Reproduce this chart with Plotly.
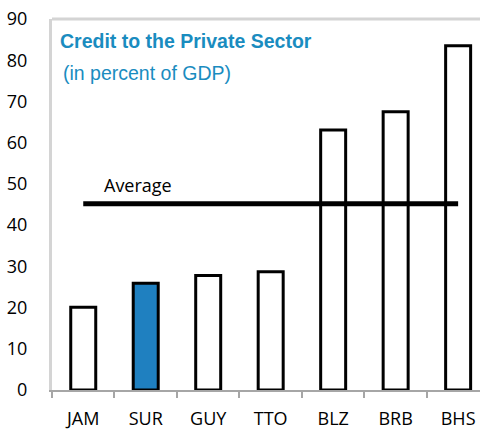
import plotly.graph_objects as go

# Credit to the private sector, percent of GDP
countries = ["JAM", "SUR", "GUY", "TTO", "BLZ", "BRB", "BHS"]
credit_pct_gdp = [20.1, 25.9, 27.8, 28.7, 63.1, 67.5, 83.5]
average_pct_gdp = 45.2
highlight = "SUR"

y_tick_values = [0, 10, 20, 30, 40, 50, 60, 70, 80, 90]

fill_colors = ["#1f80c0" if c == highlight else "#ffffff" for c in countries]

fig = go.Figure()

fig.add_trace(go.Bar(
    x=countries,
    y=credit_pct_gdp,
    width=0.4,
    marker=dict(color=fill_colors, line=dict(color="#000000", width=3)),
    showlegend=False,
    hoverinfo="x+y",
))

# Regional average drawn across the bars
fig.add_trace(go.Scatter(
    x=[countries[0], countries[-1]],
    y=[average_pct_gdp, average_pct_gdp],
    mode="lines",
    line=dict(color="#000000", width=5),
    showlegend=False,
    hoverinfo="skip",
))

fig.add_annotation(
    x=0.3, y=average_pct_gdp + 1.2, xref="x", yref="y",
    text="Average", showarrow=False,
    xanchor="left", yanchor="bottom",
    font=dict(family="Open Sans, DejaVu Sans, sans-serif", size=18, color="#000000"),
)

fig.add_annotation(
    x=0.014, y=0.975, xref="paper", yref="paper",
    text="<b>Credit to the Private Sector</b>", showarrow=False,
    xanchor="left", yanchor="top",
    font=dict(family="Liberation Sans, Arial, sans-serif", size=19.5, color="#1a8cbf"),
)
fig.add_annotation(
    x=0.022, y=0.89, xref="paper", yref="paper",
    text="(in percent of GDP)", showarrow=False,
    xanchor="left", yanchor="top",
    font=dict(family="Liberation Sans, Arial, sans-serif", size=19.5, color="#1a8cbf"),
)

# Light frame line along the top of the plot area
fig.add_shape(
    type="line", xref="paper", yref="paper",
    x0=0, x1=1, y0=1, y1=1,
    line=dict(color="#d4d4d4", width=3),
)

fig.update_layout(
    width=480, height=430,
    margin=dict(l=52, r=0, t=19, b=40),
    paper_bgcolor="#ffffff",
    plot_bgcolor="#ffffff",
    font=dict(family="Open Sans, DejaVu Sans, sans-serif", size=18, color="#000000"),
)

fig.update_xaxes(
    type="category",
    range=[-0.5, 6.35],
    showgrid=False,
    showline=True, linecolor="#a6a6a6", linewidth=2,
    ticks="outside", tickson="boundaries", ticklen=6, tickcolor="#a6a6a6", tickwidth=2,
    ticklabelstandoff=11,
    tickfont=dict(size=18),
    fixedrange=True,
)

fig.update_yaxes(
    range=[0, 90],
    tickvals=y_tick_values,
    showgrid=False, zeroline=False,
    showline=True, linecolor="#d4d4d4", linewidth=3,
    ticks="", ticklabelstandoff=18,
    tickfont=dict(size=18),
    fixedrange=True,
)

fig.write_html("out.html")
